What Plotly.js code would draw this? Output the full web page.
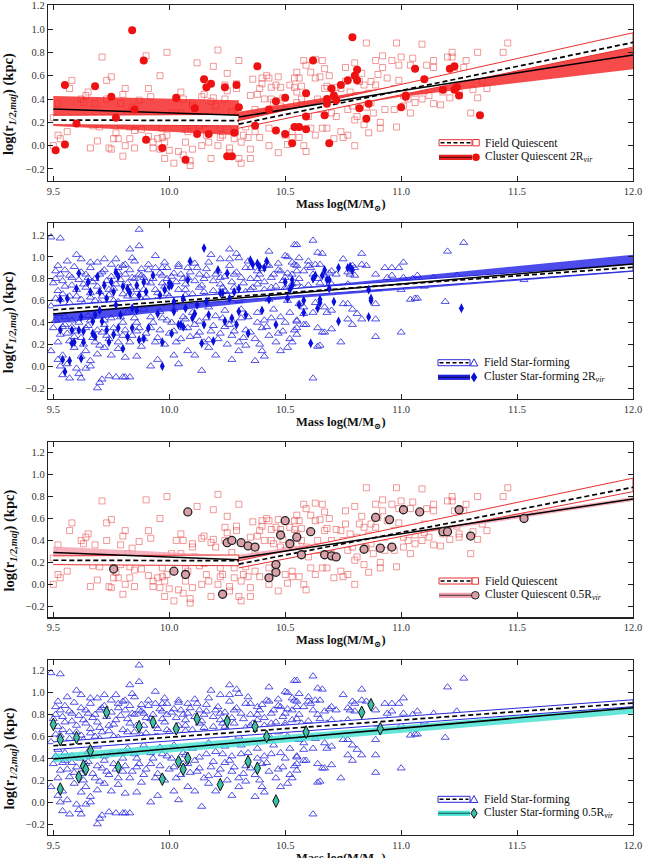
<!DOCTYPE html>
<html><head><meta charset="utf-8">
<script src="https://cdn.plot.ly/plotly-3.0.1.min.js"></script>
<style>html,body{margin:0;padding:0;background:#fff;}#chart{width:645px;height:858px;}</style>
</head><body><div id="chart"></div>
<script>
// ---------------- DATA ----------------
const xTicks = [9.5, 10.0, 10.5, 11.0, 11.5, 12.0];
const yTicks = [-0.2, 0.0, 0.2, 0.4, 0.6, 0.8, 1.0, 1.2];

// Field quiescent galaxies (open squares, panels 1 and 3)
const fieldQ_x = [
9.52,9.50,9.50,9.52,9.53,9.56,9.57,9.58,9.62,9.63,
9.64,9.65,9.66,9.67,9.68,9.69,9.70,9.71,9.73,9.73,
9.75,9.74,9.75,9.76,9.77,9.78,9.79,9.79,9.80,9.80,
9.81,9.81,9.82,9.83,9.83,9.84,9.85,9.85,9.87,9.88,
9.90,9.91,9.91,9.92,9.93,9.93,9.94,9.95,9.96,9.96,
9.97,9.97,9.98,9.98,9.99,9.99,10.00,10.01,10.02,10.03,
10.04,10.05,10.05,10.06,10.06,10.07,10.07,10.08,10.09,10.09,
10.10,10.10,10.10,10.11,10.12,10.13,10.14,10.14,10.15,10.15,
10.16,10.17,10.18,10.18,10.19,10.19,10.20,10.21,10.21,10.22,
10.22,10.23,10.24,10.24,10.25,10.25,10.26,10.26,10.27,10.28,
10.28,10.29,10.29,10.30,10.30,10.31,10.31,10.32,10.33,10.33,
10.34,10.34,10.35,10.35,10.35,10.36,10.37,10.37,10.38,10.39,
10.39,10.40,10.40,10.41,10.42,10.43,10.43,10.43,10.44,10.44,
10.45,10.45,10.46,10.47,10.47,10.48,10.48,10.49,10.50,10.50,
10.51,10.52,10.53,10.53,10.54,10.54,10.55,
10.55,10.56,10.55,10.57,10.58,10.57,10.59,10.59,10.61,10.60,
10.63,10.63,10.64,10.64,10.65,10.66,10.67,10.67,10.68,10.68,
10.69,10.70,10.70,10.71,10.72,10.72,10.73,10.74,10.74,10.75,
10.76,10.76,10.77,10.77,10.78,10.79,10.80,10.80,10.81,10.81,
10.82,10.83,10.83,10.84,10.84,10.85,10.85,10.86,10.86,10.87,
10.87,10.88,10.89,10.89,10.90,10.91,10.91,10.92,10.92,10.93,
10.93,10.94,10.95,10.96,10.97,10.97,10.98,10.98,10.99,10.99,
11.00,11.01,11.01,11.02,11.03,11.04,11.04,11.05,11.06,11.06,
11.07,11.09,11.09,11.10,11.10,11.11,11.12,11.13,11.14,11.14,
11.14,11.16,11.17,11.18,11.20,11.20,11.21,11.22,11.22,11.23,
11.24,11.25,11.25,11.27,11.28,11.29,11.30,11.31,11.33,11.33,
11.35,11.37,11.44,11.46,10.56,10.58,10.59,10.61,10.63,10.66,
10.75,10.80];
const fieldQ_y = [
0.36,0.24,0.00,0.09,0.06,0.12,0.49,0.56,0.40,0.37,
0.43,0.46,-0.02,0.17,0.36,0.04,0.16,0.76,0.40,0.56,
0.59,-0.02,-0.03,0.06,0.11,0.06,0.36,0.18,-0.09,0.44,
0.49,0.00,0.28,0.16,0.06,0.33,0.13,-0.02,0.39,0.14,
0.77,0.49,0.08,0.42,-0.02,0.03,0.22,0.06,0.60,-0.03,
0.15,0.07,-0.11,0.03,0.80,0.09,-0.04,0.28,-0.15,0.40,
-0.05,0.46,0.28,0.40,-0.08,0.03,0.14,0.12,-0.17,-0.13,
-0.03,0.37,0.34,0.25,0.71,0.17,0.42,0.00,0.19,0.44,
0.09,0.03,-0.11,0.38,0.68,0.41,0.34,0.00,0.82,0.15,
0.07,0.09,0.52,0.40,0.62,0.47,-0.02,-0.06,0.29,0.15,
0.06,0.49,0.53,0.73,-0.11,-0.15,0.03,0.09,0.23,0.16,
0.07,0.22,0.43,-0.03,-0.11,0.57,0.31,0.12,0.44,0.49,
0.07,0.58,0.53,0.40,0.60,0.58,0.00,0.15,0.50,0.40,
0.37,0.26,0.52,0.59,-0.06,0.34,0.50,0.41,0.31,0.09,
0.01,0.52,0.12,0.07,0.58,0.50,0.37,
0.63,0.58,0.46,0.51,0.73,0.40,0.69,0.34,0.63,0.25,
0.74,0.58,0.40,0.31,0.59,0.73,0.49,0.66,0.51,0.15,
0.60,0.40,0.28,0.06,0.25,0.50,0.37,0.49,0.12,0.40,
0.67,0.55,0.31,0.09,0.46,0.34,0.22,0.71,0.43,0.25,
0.55,0.62,0.40,0.18,0.52,0.88,0.33,0.11,0.45,0.55,
0.37,0.28,0.73,0.52,0.61,0.20,0.15,0.77,0.67,0.43,
0.31,0.58,0.45,0.73,0.49,0.31,0.16,0.88,0.69,0.56,
0.76,0.43,0.34,0.50,0.40,0.69,0.28,0.75,0.45,0.37,
0.52,0.40,0.87,0.55,0.47,0.69,0.43,0.53,0.73,0.67,
0.36,0.56,0.35,0.46,0.76,0.56,0.41,0.80,0.76,0.67,
0.53,0.46,0.43,0.67,0.73,0.61,0.28,0.48,0.41,0.80,
0.55,0.49,0.80,0.88,0.07,0.00,-0.05,0.15,0.09,0.15,
0.07,0.00];

// Cluster quiescent within 2 Rvir (filled red circles, panel 1)
const clusterQ2_x = [
9.51,9.55,9.55,9.60,9.68,9.75,9.77,9.84,9.85,9.89,
9.90,9.97,10.03,10.07,10.11,10.12,10.15,10.16,10.17,10.18,
10.24,10.25,10.27,10.28,10.29,10.30,10.37,10.38,10.43,10.46,
10.46,10.50,10.50,10.53,10.54,10.56,10.59,10.59,10.59,10.62,
10.68,10.69,10.67,10.68,10.70,10.71,10.72,10.74,10.77,10.79,
10.80,10.81,10.81,10.82,10.85,10.86,11.00,11.02,11.02,11.06,
11.10,11.18,11.21,11.23,11.23,11.24,11.25,11.34];
const clusterQ2_y = [
-0.04,0.01,0.52,0.19,0.51,0.42,0.24,0.99,0.31,0.73,
0.05,-0.02,0.41,-0.12,0.32,0.10,0.57,0.50,0.10,0.53,
0.50,-0.09,-0.09,0.11,0.52,0.33,0.17,0.68,0.31,0.13,
0.38,0.41,0.10,0.02,0.16,0.16,0.45,0.14,0.25,0.73,
0.40,0.02,0.26,0.36,0.49,0.43,0.39,0.52,0.56,0.93,
0.60,0.65,0.56,0.32,0.23,0.36,0.33,0.42,0.43,0.66,
0.57,0.48,0.66,0.48,0.68,0.50,0.43,0.26];

// Cluster quiescent within 0.5 Rvir (pink circles, panel 3)
const clusterQ05_x = [
9.76,10.02,10.07,10.08,10.23,10.25,10.27,10.31,10.34,10.37,
10.43,10.46,10.46,10.48,10.50,10.52,10.55,10.57,10.61,10.67,
10.70,10.72,10.84,10.89,10.91,10.95,10.96,11.01,11.08,11.18,
11.20,11.25,11.30,11.53];
const clusterQ05_y = [
0.14,0.12,0.09,0.66,-0.09,0.38,0.40,0.38,0.35,0.34,
0.06,0.18,0.11,0.45,0.58,0.37,0.43,0.27,0.48,0.27,
0.26,0.25,0.32,0.61,0.33,0.59,0.34,0.68,0.66,0.48,
0.48,0.68,0.44,0.60];

// Field star-forming galaxies (open triangles, panels 2 and 4)
const fieldSF_x = [
9.49,9.53,9.87,9.83,9.87,9.60,10.26,10.43,10.54,10.18,10.22,10.29,10.30,10.50,10.51,
9.56,9.62,9.66,9.69,9.72,9.75,9.77,9.78,9.81,9.84,9.85,9.88,9.91,9.94,9.94,9.97,9.98,10.02,10.04,10.08,10.11,10.13,10.16,10.26,10.34,10.35,10.38,10.40,10.43,10.47,10.48,10.54,10.55,
9.51,9.53,9.58,9.64,9.68,9.71,9.81,9.84,9.87,9.89,9.97,9.99,10.05,10.08,10.15,10.20,10.22,10.28,10.31,10.38,10.45,10.50,10.53,
9.50,9.52,9.55,9.57,9.60,9.63,9.66,9.69,9.71,9.74,9.77,9.80,9.83,9.85,9.89,9.92,9.95,9.98,10.00,10.04,10.07,10.10,10.13,10.15,10.19,10.22,10.25,10.28,10.32,10.35,10.38,10.40,10.44,10.47,10.50,10.53,10.55,
9.53,9.62,9.68,9.76,9.88,9.94,10.05,10.12,10.24,10.30,10.43,10.51,
9.49,9.52,9.56,9.58,9.61,9.65,9.69,9.72,9.76,9.79,9.82,9.86,9.89,9.92,9.96,9.99,10.02,10.06,10.10,10.13,10.17,10.20,10.24,10.27,10.31,10.34,10.38,10.41,10.45,10.48,10.52,10.55,
9.50,9.53,9.55,9.57,9.60,9.62,9.65,9.68,9.71,9.74,9.76,9.80,9.83,9.86,9.89,9.92,9.95,9.98,10.02,10.05,10.08,10.12,10.15,10.18,10.21,10.24,10.27,10.30,10.33,10.37,10.40,10.43,10.46,10.49,10.52,10.55,
9.49,9.52,9.54,9.56,9.59,9.62,9.64,9.64,9.66,9.69,9.72,9.75,9.78,9.81,9.86,9.92,9.95,10.02,10.04,10.08,10.11,10.14,10.17,10.20,10.27,10.30,10.33,10.37,10.40,10.41,10.48,10.51,9.53,
9.54,9.57,9.61,9.62,9.69,9.70,9.71,9.74,9.77,9.80,9.81,9.83,9.66,9.60,
10.55,10.62,10.64,10.66,10.56,10.55,10.60,10.60,10.63,10.65,
10.58,10.61,10.62,10.64,10.67,10.69,10.70,10.72,10.75,10.77,
10.78,10.79,10.80,10.80,10.83,10.83,10.85,10.89,10.93,10.94,
10.96,10.96,10.99,11.01,11.01,11.05,11.07,11.14,11.20,11.24,
11.27,11.19,10.55,10.57,10.60,10.62,10.65,10.68,10.70,10.74,
10.77,10.82,10.86,10.90,10.94,11.00,11.04,11.06,11.07,11.10,
10.56,10.58,10.63,10.68,10.70,10.67,10.75,10.77,10.79,10.81,
10.89,10.89,10.83,10.77,10.58,10.62,10.55,10.58,10.59,10.64,
10.66,10.67,10.70,10.79,11.00,10.89,10.74,10.64,10.65,10.55,
10.62,
9.51,9.52,9.54,9.55,9.57,9.58,9.59,9.61,9.62,9.64,9.65,9.66,9.67,9.70,9.70,9.72,9.73,9.75,9.76,9.78,9.79,9.80,9.82,9.83,9.85,9.86,9.88,9.90,9.91,9.93,9.94,9.96,9.97,9.99,
10.01,10.03,10.04,10.06,10.07,10.09,10.11,10.12,10.14,10.16,10.17,10.19,10.21,10.23,10.24,10.26,10.27,10.29,10.32,10.33,10.35,10.36,10.39,10.41,10.42,10.44,10.46,10.47,10.49,10.51,10.53,10.56,
9.51,9.52,9.54,9.55,9.56,9.58,9.59,9.61,9.63,9.64,9.66,9.67,9.69,9.70,9.72,9.73,9.75,9.77,9.78,9.80,9.81,9.84,9.85,9.87,9.88,9.90,9.93,9.94,9.96,9.97,10.00,10.01,10.03,10.06,10.07,10.09,10.11,10.13,10.16,10.17,10.19,10.22,10.23,10.25,10.26,10.28,10.31,10.32,10.35,10.38,10.39,10.42,10.44,10.47,10.50,10.53,10.54,
9.51,9.54,9.57,9.60,9.63,9.66,9.70,9.74,9.78,9.82,9.86,9.90,9.95,9.99,10.03,10.07,10.11,10.15,10.20,10.24,10.28,10.33,10.37,10.41,10.46,10.50,10.54,
11.53];
const fieldSF_y = [
1.18,1.17,1.25,1.07,1.10,1.02,1.07,1.05,1.11,1.02,0.98,1.03,0.99,1.01,1.00,
0.96,0.98,0.90,0.95,0.98,0.93,0.98,0.90,0.93,0.99,0.96,0.89,0.93,1.01,0.90,0.90,0.95,0.85,0.91,0.90,0.94,0.84,0.89,0.98,0.96,0.90,0.87,0.89,0.92,0.94,0.87,0.93,0.87,
0.87,0.84,0.81,0.84,0.80,0.86,0.84,0.81,0.84,0.81,0.83,0.80,0.84,0.81,0.80,0.84,0.81,0.84,0.81,0.80,0.84,0.81,0.84,
0.76,0.69,0.73,0.64,0.70,0.75,0.67,0.73,0.64,0.70,0.75,0.66,0.72,0.64,0.70,0.76,0.67,0.73,0.64,0.70,0.75,0.66,0.72,0.64,0.69,0.75,0.66,0.72,0.64,0.70,0.75,0.66,0.72,0.64,0.70,0.75,0.66,
0.61,0.61,0.60,0.60,0.61,0.60,0.61,0.60,0.61,0.60,0.61,0.60,
0.55,0.48,0.51,0.42,0.54,0.46,0.51,0.42,0.54,0.45,0.49,0.40,0.52,0.45,0.50,0.42,0.52,0.45,0.49,0.41,0.54,0.46,0.51,0.42,0.52,0.45,0.49,0.42,0.52,0.45,0.49,0.42,
0.35,0.29,0.38,0.23,0.32,0.26,0.37,0.22,0.31,0.25,0.35,0.28,0.22,0.32,0.25,0.35,0.26,0.20,0.32,0.25,0.35,0.28,0.22,0.32,0.25,0.36,0.28,0.22,0.33,0.25,0.35,0.28,0.22,0.32,0.25,0.35,
0.14,0.06,0.10,0.02,0.17,0.09,0.14,-0.02,0.05,0.11,0.17,0.10,0.16,0.08,0.09,0.00,0.06,0.10,0.02,0.14,0.10,-0.04,0.17,0.10,0.06,0.14,0.19,0.05,0.14,0.09,0.14,0.17,0.00,
-0.08,-0.11,-0.07,-0.11,-0.20,-0.15,-0.12,-0.09,-0.10,-0.10,-0.10,-0.10,0.00,-0.02,
1.11,1.15,1.04,1.03,0.99,0.92,0.96,0.92,0.93,0.93,
0.87,0.90,0.84,0.80,0.83,0.85,0.87,0.84,0.98,0.86,
0.84,0.92,0.90,0.83,1.03,0.93,0.92,0.84,0.90,0.81,
0.90,0.83,0.90,0.95,0.81,0.80,0.83,0.81,1.05,0.83,
1.13,0.59,0.76,0.72,0.74,0.69,0.76,0.72,0.75,0.72,
0.75,0.72,0.73,0.71,0.75,0.70,0.61,0.62,0.62,0.73,
0.57,0.54,0.58,0.49,0.51,0.54,0.57,0.57,0.52,0.48,
0.57,0.43,0.43,0.43,0.48,0.49,0.41,0.38,0.38,0.35,
0.31,0.31,0.34,0.38,0.31,0.27,0.22,0.18,0.19,0.29,
-0.11,
0.80,0.92,0.78,0.88,0.83,0.74,0.91,0.79,0.86,0.72,0.81,0.95,0.77,0.84,0.68,0.88,0.78,0.82,0.71,0.86,0.79,0.92,0.76,0.88,0.80,0.70,0.83,0.77,0.88,0.80,0.70,0.85,0.76,0.90,
0.82,0.77,0.93,0.80,0.70,0.86,0.78,0.90,0.74,0.83,0.95,0.78,0.87,0.72,0.82,0.92,0.77,0.86,0.76,0.90,0.80,0.72,0.84,0.77,0.93,0.81,0.73,0.88,0.78,0.85,0.95,0.80,
0.42,0.22,0.36,0.45,0.30,0.36,0.27,0.40,0.20,0.35,0.42,0.26,0.33,0.19,0.38,0.28,0.44,0.30,0.22,0.40,0.33,0.28,0.44,0.35,0.18,0.30,0.40,0.22,0.33,0.44,0.30,0.40,0.22,0.35,0.43,0.27,0.38,0.31,0.44,0.24,0.37,0.30,0.44,0.20,0.38,0.32,0.44,0.26,0.31,0.40,0.20,0.36,0.44,0.30,0.40,0.22,0.33,
0.62,0.66,0.58,0.64,0.57,0.63,0.58,0.65,0.59,0.64,0.58,0.63,0.60,0.66,0.60,0.65,0.62,0.68,0.63,0.69,0.64,0.68,0.64,0.70,0.66,0.72,0.68,
0.79];

// Cluster star-forming within 2 Rvir (filled blue diamonds, panel 2)
const clusterSF2_x = [
9.53,9.53,9.54,9.55,9.56,9.57,9.58,9.58,9.59,9.61,
9.60,9.61,9.62,9.62,9.63,9.63,9.65,9.66,9.67,9.67,
9.68,9.68,9.69,9.70,9.70,9.71,9.72,9.73,9.73,9.74,
9.75,9.76,9.76,9.77,9.77,9.78,9.78,9.79,9.80,9.80,
9.82,9.82,9.83,9.84,9.84,9.86,9.86,9.87,9.87,9.89,
9.89,9.90,9.91,9.93,9.95,9.96,9.97,9.97,9.98,10.00,
10.00,10.01,10.01,10.02,10.02,10.04,10.05,10.06,10.06,10.07,
10.08,10.09,10.10,10.11,10.12,10.14,10.15,10.15,10.16,10.17,
10.19,10.21,10.22,10.23,10.24,10.25,10.26,10.27,10.28,10.29,
10.30,10.30,10.33,10.34,10.35,10.36,10.38,10.39,10.40,10.41,
10.42,10.43,10.46,10.50,10.51,10.52,10.53,10.53,10.56,10.58,
10.58,10.61,10.62,10.63,10.64,10.65,10.65,10.67,10.68,10.69,
10.66,10.69,10.71,10.73,10.73,10.77,10.78,10.79,10.86,10.86,
10.87,10.87,11.26];
const clusterSF2_y = [
0.61,0.33,0.06,-0.05,0.62,0.05,0.33,0.21,0.22,0.85,
0.71,0.33,0.45,0.07,0.32,0.22,0.77,0.68,0.30,0.41,
0.27,0.47,0.82,0.68,0.51,0.41,0.74,0.33,0.62,0.22,
0.77,0.68,0.29,0.56,0.86,0.82,0.35,0.47,0.16,0.73,
0.71,0.27,0.67,0.35,0.53,0.74,0.51,0.65,0.24,0.25,
0.77,0.68,0.35,0.83,0.48,0.65,0.22,0.00,0.70,0.73,
0.76,0.30,0.74,0.50,0.59,0.38,0.38,0.62,0.36,0.53,
0.79,0.96,0.44,0.48,0.56,0.21,0.38,1.08,0.59,0.47,
0.23,0.88,0.67,0.67,0.41,0.85,0.62,0.44,0.68,0.38,
0.50,0.71,0.47,0.30,0.97,0.93,0.94,0.91,0.51,0.90,
0.96,0.61,0.38,0.77,0.62,0.70,0.74,0.79,0.56,0.60,
0.49,0.21,0.80,0.83,0.53,0.58,0.61,0.88,0.79,0.71,
0.83,0.79,0.59,0.90,0.41,0.90,0.91,0.88,0.70,0.45,
0.62,0.60,0.53];

// Cluster star-forming within 0.5 Rvir (turquoise diamonds, panel 4)
const clusterSF05_x = [
9.50,9.53,9.53,9.60,9.61,9.63,9.64,9.66,9.73,9.78,
9.87,9.93,9.97,10.03,10.04,10.06,10.08,10.12,10.22,10.25,
10.34,10.37,10.38,10.42,10.46,10.59,10.83,10.87,10.91];
const clusterSF05_y = [
0.71,0.12,0.57,0.59,0.23,0.33,0.30,0.47,0.82,0.32,
0.69,0.73,0.21,0.67,0.37,0.30,0.40,0.76,0.16,0.74,
0.37,0.69,0.31,0.60,0.01,0.64,0.82,0.89,0.67];

// Fitted relations (centre line and uncertainty band)
const fq_L_x = [9.5, 10.3],  fq_L_mid = [0.220, 0.215], fq_L_lo = [0.180, 0.170], fq_L_hi = [0.260, 0.268];
const fq_R_x = [10.3, 12.0], fq_R_mid = [0.185, 0.885], fq_R_lo = [0.150, 0.845], fq_R_hi = [0.215, 0.968];
const cq2_L_x = [9.5, 10.3],  cq2_L_mid = [0.315, 0.260], cq2_L_lo = [0.168, 0.090], cq2_L_hi = [0.425, 0.390];
const cq2_R_x = [10.3, 11.0, 12.0], cq2_R_mid = [0.245, 0.470, 0.778], cq2_R_lo = [0.190, 0.420, 0.655], cq2_R_hi = [0.290, 0.520, 0.840];
const cq05_L_x = [9.5, 10.3], cq05_L_mid = [0.290, 0.225], cq05_L_lo = [0.245, 0.200], cq05_L_hi = [0.345, 0.260];
const cq05_R_x = [10.3, 12.0], cq05_R_mid = [0.240, 0.778], cq05_R_lo = [0.215, 0.760], cq05_R_hi = [0.270, 0.795];
const fsf_x = [9.5, 12.0], fsf_mid = [0.515, 0.905], fsf_lo = [0.480, 0.872], fsf_hi = [0.550, 0.935];
const csf2_x = [9.5, 10.5, 12.0], csf2_mid = [0.477, 0.660, 0.935], csf2_lo = [0.390, 0.615, 0.865], csf2_hi = [0.560, 0.705, 1.020];
const csf05_x = [9.5, 12.0], csf05_mid = [0.394, 0.862], csf05_lo = [0.365, 0.810], csf05_hi = [0.440, 0.875];

// ---------------- LAYOUT GEOMETRY ----------------
const W = 645, H = 858, ML = 48, MR = 12, MT = 5, MB = 23;
const PW = W - ML - MR, PH = H - MT - MB;
const px2x = p => (p - ML) / PW;
const py2y = p => (H - MB - p) / PH;
const panels = [
  {top: 5,     bot: 181,   yr: [-0.303, 1.206]},
  {top: 223.3, bot: 399,   yr: [-0.300, 1.307]},
  {top: 441.7, bot: 617.3, yr: [-0.300, 1.300]},
  {top: 660,   bot: 835,   yr: [-0.300, 1.298]}
];
const FONT = 'Liberation Serif, DejaVu Serif, Times New Roman, serif';

const RED = '#e83030', BLUE = '#2a2ad8';
const bandCols = ['rgba(245,30,30,0.80)', 'rgba(25,25,232,0.78)', 'rgba(245,165,178,0.85)', 'rgba(64,224,208,0.80)'];

const traces = [];
function ax(i){ return i === 0 ? ['x','y'] : ['x'+(i+1), 'y'+(i+1)]; }
function band(i, xs, lo, hi, fillcolor, lineColor, lw){
  const [xa, ya] = ax(i);
  traces.push({x: xs.concat(xs.slice().reverse()), y: hi.concat(lo.slice().reverse()),
    type: 'scatter', mode: 'lines', fill: 'toself', fillcolor: fillcolor,
    line: {color: lineColor || 'rgba(0,0,0,0)', width: lw || 0}, xaxis: xa, yaxis: ya, hoverinfo: 'skip'});
}
function line(i, xs, ys, dash, width){
  const [xa, ya] = ax(i);
  traces.push({x: xs, y: ys, type: 'scatter', mode: 'lines',
    line: {color: '#000', width: width, dash: dash}, xaxis: xa, yaxis: ya, hoverinfo: 'skip'});
}
function pts(i, xs, ys, marker){
  const [xa, ya] = ax(i);
  traces.push({x: xs, y: ys, type: 'scatter', mode: 'markers', marker: marker, xaxis: xa, yaxis: ya, cliponaxis: true});
}
const mFieldQ = {symbol: 'square-open', size: 6, color: 'rgba(232,70,70,0.55)', line: {width: 1}};
const mFieldSF = {symbol: 'triangle-up-open', size: 7, color: 'rgba(40,40,222,0.80)', line: {width: 1}};
const DASH = '5px,3px';

// Panel 1
pts(0, fieldQ_x, fieldQ_y, mFieldQ);
band(0, cq2_L_x, cq2_L_lo, cq2_L_hi, bandCols[0]);
band(0, cq2_R_x, cq2_R_lo, cq2_R_hi, bandCols[0]);
band(0, fq_L_x, fq_L_lo, fq_L_hi, '#ffffff', RED, 1);
band(0, fq_R_x, fq_R_lo, fq_R_hi, '#ffffff', RED, 1);
line(0, fq_L_x, fq_L_mid, DASH, 1.7); line(0, fq_R_x, fq_R_mid, DASH, 1.7);
line(0, cq2_L_x, cq2_L_mid, 'solid', 1.5); line(0, cq2_R_x, cq2_R_mid, 'solid', 1.5);
pts(0, clusterQ2_x, clusterQ2_y, {symbol: 'circle', size: 8, color: '#ee1111', line: {width: 0}});

// Panel 2
pts(1, fieldSF_x, fieldSF_y, mFieldSF);
band(1, csf2_x, csf2_lo, csf2_hi, bandCols[1]);
band(1, fsf_x, fsf_lo, fsf_hi, '#ffffff', BLUE, 1);
line(1, fsf_x, fsf_mid, DASH, 1.7);
line(1, csf2_x, csf2_mid, 'solid', 1.5);
pts(1, clusterSF2_x, clusterSF2_y, {symbol: 'diamond-tall', size: 7, color: '#0a10d8', line: {width: 0}});

// Panel 3
pts(2, fieldQ_x, fieldQ_y, mFieldQ);
band(2, cq05_L_x, cq05_L_lo, cq05_L_hi, bandCols[2]);
band(2, cq05_R_x, cq05_R_lo, cq05_R_hi, bandCols[2]);
band(2, fq_L_x, fq_L_lo, fq_L_hi, 'rgba(255,255,255,0.9)', RED, 1);
band(2, fq_R_x, fq_R_lo, fq_R_hi, 'rgba(255,255,255,0.9)', RED, 1);
line(2, fq_L_x, fq_L_mid, DASH, 1.7); line(2, fq_R_x, fq_R_mid, DASH, 1.7);
line(2, cq05_L_x, cq05_L_mid, 'solid', 1.5); line(2, cq05_R_x, cq05_R_mid, 'solid', 1.5);
pts(2, clusterQ05_x, clusterQ05_y, {symbol: 'circle', size: 8, color: '#d9a0a8', line: {color: '#222', width: 1.3}});

// Panel 4
pts(3, fieldSF_x, fieldSF_y, mFieldSF);
band(3, csf05_x, csf05_lo, csf05_hi, bandCols[3]);
band(3, fsf_x, fsf_lo, fsf_hi, '#ffffff', BLUE, 1);
line(3, fsf_x, fsf_mid, DASH, 1.7);
line(3, csf05_x, csf05_mid, 'solid', 1.5);
pts(3, clusterSF05_x, clusterSF05_y, {symbol: 'diamond-tall', size: 9, color: '#3cc0a8', line: {color: '#111', width: 1}});

// ---------------- AXES ----------------
const layout = {
  width: W, height: H, showlegend: false,
  margin: {l: ML, r: MR, t: MT, b: MB, pad: 0},
  paper_bgcolor: '#fff', plot_bgcolor: '#fff',
  font: {family: FONT, color: '#222'},
  shapes: [], annotations: []
};
panels.forEach((p, i) => {
  const xs = i === 0 ? 'xaxis' : 'xaxis' + (i + 1);
  const ys = i === 0 ? 'yaxis' : 'yaxis' + (i + 1);
  const common = {ticks: 'inside', ticklen: 5, tickwidth: 1, tickcolor: '#222', showline: true,
    linecolor: '#222', linewidth: 1.2, mirror: 'ticks', showgrid: false, zeroline: false,
    tickformat: '.1f', tickfont: {family: FONT, size: 10.5, color: '#333'}, fixedrange: true};
  layout[xs] = Object.assign({}, common, {range: [9.477, 12.0], tickvals: xTicks, domain: [0, 1],
    anchor: i === 0 ? 'y' : 'y' + (i + 1)});
  layout[ys] = Object.assign({}, common, {range: p.yr, tickvals: yTicks,
    domain: [Math.max(0, py2y(p.bot)), Math.min(1, py2y(p.top))], anchor: i === 0 ? 'x' : 'x' + (i + 1)});
  // axis titles
  layout.annotations.push({xref: 'paper', yref: 'paper', x: px2x(9), y: py2y((p.top + p.bot) / 2 + 11),
    text: '<b>log(r<sub><i>1/2,maj</i></sub>) (kpc)</b>', textangle: -90, showarrow: false,
    xanchor: 'center', yanchor: 'middle', font: {family: FONT, size: 14.5, color: '#111'}});
  layout.annotations.push({xref: 'paper', yref: 'paper', x: px2x(341), y: py2y(p.bot + 23.5),
    text: '<b>Mass log(M/M<sub>⊙</sub>)</b>', showarrow: false,
    xanchor: 'center', yanchor: 'middle', font: {family: FONT, size: 12.5, color: '#111'}});
});

// ---------------- LEGENDS (drawn by hand) ----------------
const legends = [
  {r1: 142.7, r2: 157.3, sx0: 439, sx1: 472, mx: 476,   tx: 483,   edge: RED,  band: 'rgba(230,20,20,0.95)',
   t1: 'Field Quiescent', t2: 'Cluster Quiescent 2R<sub><i>vir</i></sub>', fm: 'square', cm: 'circle', cfill: '#ee1111', cedge: null},
  {r1: 362.7, r2: 377.3, sx0: 438, sx1: 470, mx: 474,   tx: 481.7, edge: BLUE, band: 'rgba(20,20,225,0.95)',
   t1: 'Field Star-forming', t2: 'Cluster Star-forming 2R<sub><i>vir</i></sub>', fm: 'tri', cm: 'diamond', cfill: '#0a10d8', cedge: null},
  {r1: 581,   r2: 595.3, sx0: 439, sx1: 472, mx: 475.3, tx: 483.3, edge: RED,  band: 'rgba(240,160,175,0.95)',
   t1: 'Field Quiescent', t2: 'Cluster Quiescent 0.5R<sub><i>vir</i></sub>', fm: 'square', cm: 'circle', cfill: '#d9a0a8', cedge: '#222'},
  {r1: 799.3, r2: 813.3, sx0: 438, sx1: 470, mx: 474,   tx: 481.7, edge: BLUE, band: 'rgba(64,224,208,0.95)',
   t1: 'Field Star-forming', t2: 'Cluster Star-forming 0.5R<sub><i>vir</i></sub>', fm: 'tri', cm: 'diamond', cfill: '#3cc0a8', cedge: '#111'}
];
const S = layout.shapes;
function P(x, y){ return px2x(x).toFixed(5) + ',' + py2y(y).toFixed(5); }
legends.forEach(L => {
  S.push({type: 'rect', xref: 'paper', yref: 'paper', x0: px2x(L.sx0), x1: px2x(L.sx1), y0: py2y(L.r1 + 3), y1: py2y(L.r1 - 3),
    fillcolor: '#fff', line: {color: L.edge, width: 1}});
  S.push({type: 'line', xref: 'paper', yref: 'paper', x0: px2x(L.sx0 + 1.5), x1: px2x(L.sx1 - 1.5), y0: py2y(L.r1), y1: py2y(L.r1),
    line: {color: '#000', width: 1.5, dash: '4px,2.5px'}});
  if (L.fm === 'square') {
    S.push({type: 'rect', xref: 'paper', yref: 'paper', x0: px2x(L.mx - 3.2), x1: px2x(L.mx + 3.2), y0: py2y(L.r1 + 3.2), y1: py2y(L.r1 - 3.2),
      fillcolor: '#fff', line: {color: L.edge, width: 1}});
  } else {
    S.push({type: 'path', xref: 'paper', yref: 'paper',
      path: 'M' + P(L.mx - 3.8, L.r1 + 3.2) + 'L' + P(L.mx + 3.8, L.r1 + 3.2) + 'L' + P(L.mx, L.r1 - 3.8) + 'Z',
      fillcolor: '#fff', line: {color: L.edge, width: 1}});
  }
  S.push({type: 'rect', xref: 'paper', yref: 'paper', x0: px2x(L.sx0), x1: px2x(L.sx1), y0: py2y(L.r2 + 2.6), y1: py2y(L.r2 - 2.6),
    fillcolor: L.band, line: {width: 0}});
  S.push({type: 'line', xref: 'paper', yref: 'paper', x0: px2x(L.sx0), x1: px2x(L.sx1), y0: py2y(L.r2), y1: py2y(L.r2),
    line: {color: 'rgba(0,0,0,0.55)', width: 1.2}});
  const ce = L.cedge ? {color: L.cedge, width: 1} : {width: 0};
  if (L.cm === 'circle') {
    S.push({type: 'circle', xref: 'paper', yref: 'paper', x0: px2x(L.mx - 3.8), x1: px2x(L.mx + 3.8), y0: py2y(L.r2 + 3.8), y1: py2y(L.r2 - 3.8),
      fillcolor: L.cfill, line: ce});
  } else {
    S.push({type: 'path', xref: 'paper', yref: 'paper',
      path: 'M' + P(L.mx, L.r2 - 5) + 'L' + P(L.mx + 3.2, L.r2) + 'L' + P(L.mx, L.r2 + 5) + 'L' + P(L.mx - 3.2, L.r2) + 'Z',
      fillcolor: L.cfill, line: ce});
  }
  [[L.t1, L.r1], [L.t2, L.r2]].forEach(([t, r]) => layout.annotations.push({xref: 'paper', yref: 'paper',
    x: px2x(L.tx), y: py2y(r), text: t, showarrow: false, xanchor: 'left', yanchor: 'middle',
    font: {family: FONT, size: 11.5, color: '#111'}}));
});

Plotly.newPlot('chart', traces, layout, {displayModeBar: false, staticPlot: true});
</script>
</body></html>
